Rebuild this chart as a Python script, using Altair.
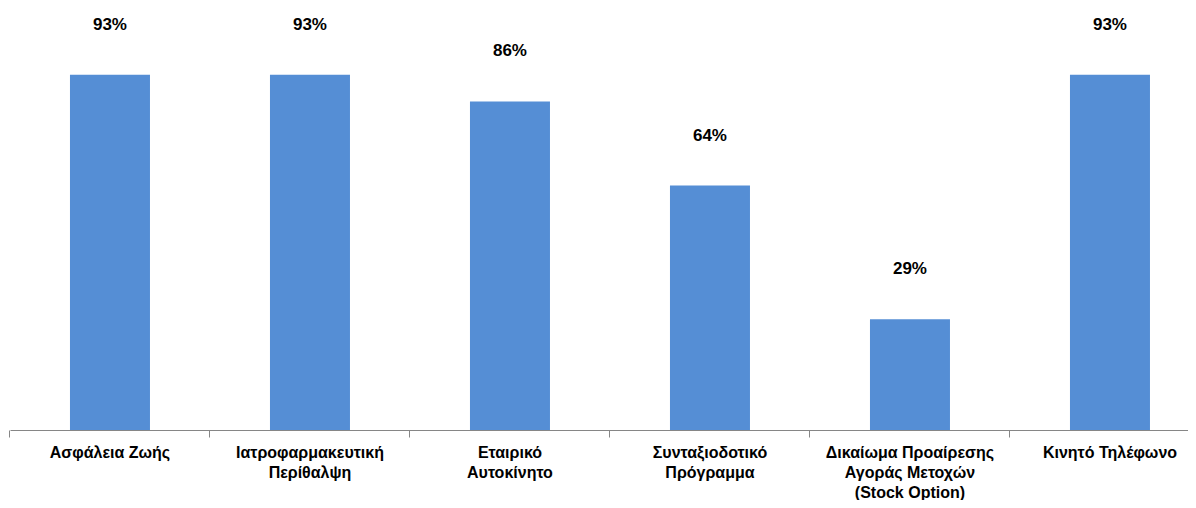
import altair as alt
import pandas as pd

categories = [
    "Ασφάλεια Ζωής",
    "Ιατροφαρμακευτική|Περίθαλψη",
    "Εταιρικό|Αυτοκίνητο",
    "Συνταξιοδοτικό|Πρόγραμμα",
    "Δικαίωμα Προαίρεσης|Αγοράς Μετοχών|(Stock Option)",
    "Κινητό Τηλέφωνο",
]
values = [0.93, 0.93, 0.86, 0.64, 0.29, 0.93]
labels = ["93%", "93%", "86%", "64%", "29%", "93%"]

df = pd.DataFrame({"cat": categories, "value": values, "label": labels})

FONT = "Liberation Sans"
H = 382
W = 1178

xscale = alt.Scale(domain=categories, paddingInner=0.6, paddingOuter=0.245, align=0.612)
yscale = alt.Scale(domain=[0, 1])

x_axis = alt.Axis(
    title=None, ticks=True, tickSize=7, tickColor="#868686", bandPosition=-0.75,
    labelAngle=0,
    labelExpr="split(datum.label, '|')",
    labelFont=FONT, labelFontSize=16, labelFontWeight="bold", labelColor="#000000",
    labelLineHeight=20, labelPadding=7, labelBaseline="top",
    domainColor="#868686", domainWidth=1, labelLimit=300,
)

base = alt.Chart(df)

bars = base.mark_bar(color="#558ED5").encode(
    x=alt.X("cat:N", scale=xscale, axis=x_axis, sort=categories),
    y=alt.Y("value:Q", scale=yscale, axis=None),
)

text = base.mark_text(
    font=FONT, fontSize=17, fontWeight="bold", color="#000000",
    baseline="middle", dy=-50,
).encode(
    x=alt.X("cat:N", scale=xscale, sort=categories),
    y=alt.Y("value:Q", scale=yscale),
    text="label:N",
)

chart = alt.layer(bars, text).properties(
    width=W, height=H,
    autosize=alt.AutoSizeParams(type="none"),
    padding={"left": 2, "top": 40, "right": 0, "bottom": 70},
).configure_view(stroke=None)

chart.save("out.html", embed_options={"renderer": "svg", "actions": False})
